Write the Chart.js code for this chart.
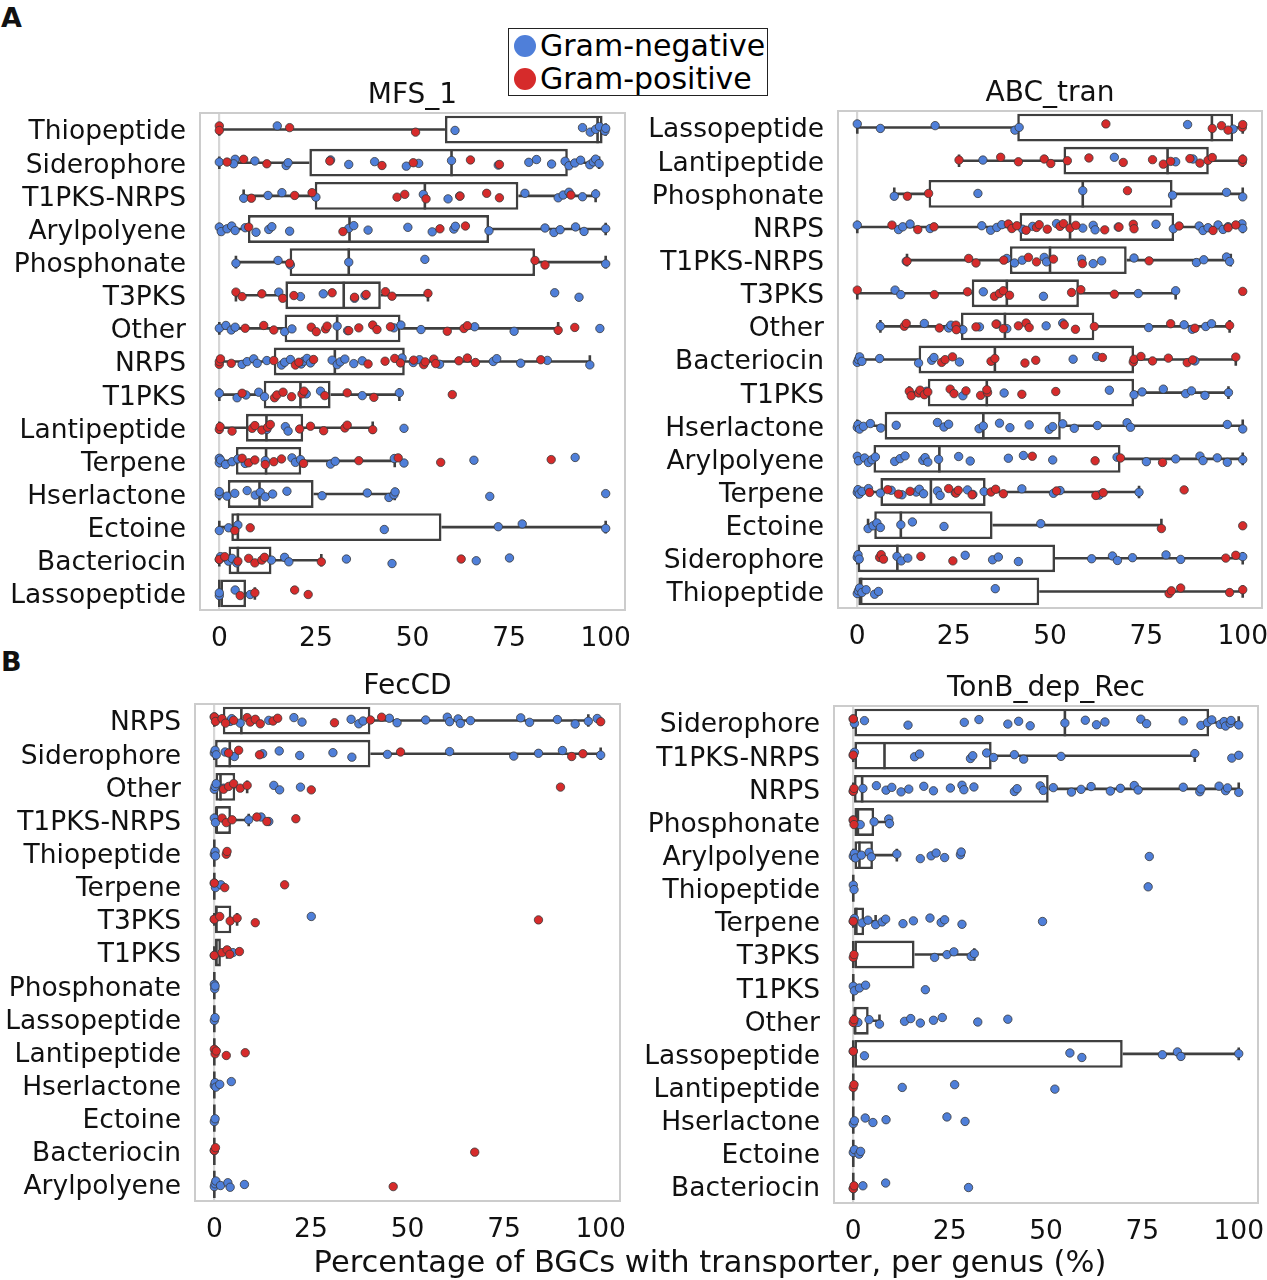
<!DOCTYPE html>
<html><head><meta charset="utf-8">
<script src="https://cdn.jsdelivr.net/npm/chart.js@4.4.1/dist/chart.umd.min.js"></script>
<style>
html,body{margin:0;padding:0;background:#fff;}
body{width:1267px;height:1280px;position:relative;overflow:hidden;font-family:'DejaVu Sans',sans-serif;}
canvas{position:absolute;}
.lab{position:absolute;font-family:'DejaVu Sans',sans-serif;color:#111;white-space:nowrap;}
#legend{position:absolute;left:508px;top:28px;width:258px;height:66px;border:1px solid #222;background:#fff;}
#legend .row{height:32px;line-height:32px;font-size:30px;display:flex;align-items:center;margin-top:1px;}
#legend .dot{width:22px;height:22px;border-radius:50%;margin-left:5px;margin-right:4px;flex:none;}
</style></head><body>
<div class="lab" style="left:1px;top:2px;font-size:27px;font-weight:bold;">A</div>
<div class="lab" style="left:1px;top:646px;font-size:27px;font-weight:bold;">B</div>
<canvas id="c1" width="640" height="610" style="left:0;top:60px"></canvas>
<canvas id="c2" width="627" height="610" style="left:640px;top:60px"></canvas>
<canvas id="c3" width="640" height="610" style="left:0;top:650px"></canvas>
<canvas id="c4" width="627" height="610" style="left:640px;top:650px"></canvas>
<div id="legend">
  <div class="row"><span class="dot" style="background:#4f7fd9"></span><span>Gram-negative</span></div>
  <div class="row"><span class="dot" style="background:#d62b2b"></span><span>Gram-positive</span></div>
</div>
<div class="lab" style="left:210px;width:1000px;text-align:center;top:1244px;font-size:30.5px;line-height:36px;">Percentage of BGCs with transporter, per genus (%)</div>
<script>
// ---------------- DATA ----------------
const X_TICKS = [0, 25, 50, 75, 100];

// Panel A, MFS_1
const mfsCategories = ['Thiopeptide','Siderophore','T1PKS-NRPS','Arylpolyene','Phosphonate','T3PKS','Other','NRPS','T1PKS','Lantipeptide','Terpene','Hserlactone','Ectoine','Bacteriocin','Lassopeptide'];
const mfsNeg = [
  [15, 61, 94, 96, 97.4, 98.4, 99.8, 100],
  [0, 4.1, 3.7, 9.2, 17.3, 17.8, 28.8, 33.5, 40.2, 48.4, 51.6, 60.1, 72.2, 80.1, 82.1, 86, 89.5, 90.5, 92, 93.5, 95.9, 96.8, 97.4, 98.3],
  [6.3, 12.6, 16.2, 25, 52.8, 59.2, 62.2, 79.1, 87.7, 89, 90.5, 94, 97.4],
  [0, 0.5, 2, 3.2, 4.1, 6.7, 9.5, 12.8, 13.6, 18.2, 33.5, 34.8, 38.5, 48.8, 55.1, 60.7, 61.1, 69.8, 84.3, 86.6, 88.2, 92.2, 94.4, 100],
  [4.3, 15.2, 18.4, 33.5, 53.2, 100],
  [15.4, 21, 26.9, 35, 37.7, 86.8, 93.1],
  [0, 1.7, 3.1, 4.1, 16.9, 18.8, 30.5, 33.2, 45.2, 47, 52.2, 66.1, 76.3, 98.5],
  [5.9, 7.2, 8.9, 9.8, 12.3, 16.1, 16.9, 18.4, 21.2, 21.8, 22.7, 23.6, 29.2, 30.5, 31.3, 32.5, 34.8, 37, 47.3, 50.2, 51.8, 57, 70.9, 71.8, 78, 84.9, 95.9],
  [0, 4.6, 6.9, 10.2, 11.7, 22.5, 26.2, 37, 46.6],
  [12.3, 17.1, 17.8, 47.8],
  [0, 0, 0.3, 1.6, 3.3, 4.8, 6.7, 11.9, 18.8, 19.7, 21, 28.8, 30, 45.3, 47.8, 65.9, 92.1],
  [0, 0, 2, 4, 7.2, 9.3, 10.6, 11.9, 13.8, 17.5, 26.6, 38.3, 43.9, 45.2, 45.5, 70, 100],
  [0, 2.4, 4.8, 42.7, 72.2, 78.4, 100],
  [0, 0.3, 2.4, 3.3, 4.5, 13.5, 16.9, 18, 32.9, 44.7, 66.5, 75.1],
  [0, 0, 4.1, 8]
];
const mfsPos = [
  [0, 0, 18.2, 50.8],
  [2, 6.3, 12.3, 28.6, 42.1, 50.2, 65, 72.5],
  [8.3, 19.5, 24, 46, 48, 53.5, 62.3, 69.2, 72.5, 91],
  [7.6, 32, 57.1, 63.7],
  [18.2, 81.7, 84.3],
  [4.3, 5.9, 11, 16.4, 19.3, 29.2, 35, 38, 43, 44.7, 54],
  [6.7, 11.5, 14.1, 23.8, 25.1, 27.5, 27.9, 33.5, 36.1, 39.7, 40.8, 44.3, 59, 63.3, 64.2, 87.7, 92],
  [0, 0, 0.3, 3.1, 14.1, 19.7, 20.6, 24.4, 38.5, 42.9, 45.4, 46.9, 50.3, 52.9, 53.3, 55.5, 56, 62, 64.2, 66.3, 83.2],
  [5.9, 14.3, 14.9, 16.5, 18.7, 21.4, 21.9, 27.3, 33.1, 40, 60.3],
  [0, 0.2, 3.3, 8.5, 9.2, 11, 12.5, 13.2, 20.8, 23.6, 27, 32.5, 33.1, 39.7],
  [5.9, 7.6, 9.2, 11.9, 14.1, 16.1, 21.8, 36.1, 46.3, 57.3, 85.9],
  [],
  [4, 8],
  [0, 1.4, 4.8, 7.6, 9.2, 11, 11.7, 26.4, 62.6],
  [5.4, 9.2, 19.5, 23]
];
const mfsMin    = [0, 0, 6.3, 0, 4.3, 4.3, 0, 0, 0, 0, 0, 0, 0, 0, 0];
const mfsQ1     = [58.4, 23.3, 24.7, 7.4, 18.2, 17.1, 16.9, 14.1, 11.5, 6.9, 4.3, 2.2, 3.1, 2.4, 0];
const mfsMedian = [97.9, 60.1, 53.2, 33.7, 33.5, 32.2, 30.5, 29.9, 21, 12.2, 12.1, 10.4, 4.8, 4.8, 0];
const mfsQ3     = [99.2, 90.2, 77.4, 69.8, 81.7, 41.8, 46.9, 48, 28.8, 21.7, 21.2, 24.4, 57.5, 13.5, 6.9];
const mfsMax    = [100, 98.3, 97.4, 100, 100, 54, 87.7, 95.9, 46.6, 39.7, 45.4, 45.4, 100, 26.4, 9.2];

// Panel A, ABC_tran
const abcCategories = ['Lassopeptide','Lantipeptide','Phosphonate','NRPS','T1PKS-NRPS','T3PKS','Other','Bacteriocin','T1PKS','Hserlactone','Arylpolyene','Terpene','Ectoine','Siderophore','Thiopeptide'];
const abcNeg = [
  [0, 6, 20.2, 40.9, 42, 85.7, 97.5],
  [32.6, 66.7, 82.6, 87.1],
  [9.6, 31.3, 58.5, 81.8, 95.8, 100],
  [0, 10.7, 11.8, 13.7, 18.9, 32.3, 34.6, 36.2, 37.5, 42.9, 45.5, 51.7, 58.5, 61.2, 61.7, 67.7, 77.5, 82, 88.7, 89.7, 91, 93.6, 94.9, 96.2, 99.8, 100],
  [12.7, 38.8, 40.8, 42.8, 48.5, 49.1, 58.2, 61.2, 63.4, 71.8, 88, 89.9, 95.8, 96.6],
  [9.8, 11.3, 32.7, 48.3, 72.9, 82.6],
  [6, 17.4, 23.7, 24.3, 27.4, 31.7, 36.2, 38.8, 49, 53.3, 75.6, 84.8, 86.9, 90.4, 91.9],
  [0, 0.3, 0.6, 1.2, 5.8, 15.9, 19.3, 19.9, 26.5, 56, 62.1, 87.6],
  [18, 27.4, 38.1, 65.4, 71.8, 73.9, 79.4, 85.2, 86.7, 90.2, 96.3],
  [0, 0.2, 0.6, 1.6, 3.4, 6.1, 10.1, 20.8, 22.5, 23.7, 31.6, 32.7, 36.9, 39.6, 44.6, 49.8, 50.7, 53.3, 56.3, 62.3, 70, 70.9, 96, 100],
  [0, 0.3, 1.9, 2.9, 3.8, 4.7, 9.7, 11.1, 12.4, 17, 17.6, 18.3, 21.1, 26.3, 29.3, 39.2, 43.1, 50.7, 67.4, 75, 82.6, 88.9, 89.7, 93.4, 96, 100],
  [0, 0.2, 0.5, 1.2, 2.9, 6, 8.8, 11.6, 15.3, 16.1, 17.2, 20.8, 21.5, 25.4, 28.6, 30, 32.9, 42.7, 50.9, 52.6, 62.8, 73.1],
  [2.8, 4.1, 5.1, 6, 11.3, 14.3, 22.5, 47.6],
  [0, 0.2, 0.5, 10.3, 11.4, 13.1, 28, 35.1, 36.6, 41.8, 60.8, 66.2, 67.5, 71.4, 80.1, 83.9, 100],
  [0, 0.3, 0.6, 1.2, 2.3, 4.5, 5.5, 35.8]
];
const abcPos = [
  [64.5, 92.1, 94.5, 96.2, 99.9, 100],
  [26.4, 37.2, 41.8, 48.5, 50.2, 54.5, 60.1, 69, 76.6, 79.4, 81.3, 86.3, 88.9, 91, 92.1, 99.9, 100],
  [13, 18.5, 70.1],
  [9, 15.7, 19.9, 39.2, 40.1, 41.4, 43.8, 46.5, 47.2, 49.3, 52.6, 53.5, 55.2, 56.7, 64.2, 67.9, 71.6, 71.8, 83.5, 92.3, 96.2, 98.2],
  [12.9, 28.9, 30.8, 38, 44.4, 46.5, 50.9, 58.4, 75.7],
  [0, 20, 28.6, 35.6, 36.9, 37.9, 39.5, 55.6, 58, 66.7, 100],
  [12.2, 12.7, 21.3, 25.6, 25.7, 30.8, 36, 37.9, 41.8, 43.8, 44.6, 53.7, 56.6, 61.5, 81.3, 87.6, 96.6],
  [21.9, 22.8, 24.7, 34.7, 35.7, 43.5, 46.3, 63.6, 71.6, 71.8, 73.6, 76.6, 80.7, 85.6, 87, 98.2],
  [13.5, 14, 15.9, 16.3, 17.4, 18.3, 24.1, 25.1, 28.2, 32, 33.8, 33.6, 42.7, 51.5],
  [],
  [45.4, 61.7, 68.3, 79.2],
  [3.2, 7.9, 10.7, 13.7, 23.7, 25.6, 26.2, 29.8, 34.7, 35.9, 37.9, 51.7, 61.9, 63.8, 84.8],
  [78.9, 100],
  [5.8, 6.2, 6.8, 16.5, 24.8, 95.6, 98.2],
  [80.9, 81.5, 83.9, 96.6, 100]
];
const abcMin    = [0, 26.4, 9.6, 0, 12.9, 0, 6, 0, 13.5, 0, 0, 0, 2.8, 0, 0];
const abcQ1     = [41.5, 53.5, 18.5, 42.1, 39.6, 29.7, 26.9, 15.9, 18.3, 7.1, 4.2, 6, 4.4, 0.1, 0];
const abcMedian = [92, 80.5, 58.5, 55.2, 50, 38.8, 38.3, 35.7, 33.6, 32.7, 21.3, 19.1, 11.3, 10.4, 1];
const abcQ3     = [97.5, 91.2, 81.8, 82.2, 69.9, 57.5, 61.5, 71.8, 71.8, 52.8, 68.3, 33.3, 35.1, 51.3, 47.2];
const abcMax    = [100, 100, 100, 100, 96.9, 82.6, 96.6, 98.2, 96.3, 100, 100, 73.1, 78.9, 100, 100];

// Panel B, FecCD
const fecCategories = ['NRPS','Siderophore','Other','T1PKS-NRPS','Thiopeptide','Terpene','T3PKS','T1PKS','Phosphonate','Lassopeptide','Lantipeptide','Hserlactone','Ectoine','Bacteriocin','Arylpolyene'];
const fecNeg = [
  [0, 4.1, 4.5, 6.7, 14.1, 20.6, 22.7, 35.4, 37.4, 38.5, 45.3, 47.3, 54.7, 60.3, 60.9, 63.1, 63.7, 66.3, 79.3, 81.6, 88.8, 93.4, 96.8, 99.1],
  [0, 0.2, 0.5, 2.8, 5.2, 12.5, 16.8, 22.1, 30.7, 35.6, 44.8, 60.9, 77.5, 83.9, 90.1, 100],
  [0, 0.2, 0.5, 2.4, 15.4, 16.9, 22.3],
  [0, 0.3, 8.9, 12.1, 14.1],
  [0, 0.2, 0.3],
  [0, 0.3, 1.7],
  [0, 25.1],
  [0, 4.8],
  [0, 0.1, 0.2],
  [0, 0.2],
  [],
  [0, 0.2, 0.4, 1.4, 4.4],
  [0, 0.2],
  [0],
  [0, 0.2, 0.4, 1.6, 3.5, 4.1, 7.8]
];
const fecPos = [
  [0, 0.3, 2, 2.9, 5, 8.5, 9.3, 10.6, 11.9, 15.2, 16.4, 31.1, 40.4, 43.3, 100],
  [3.7, 6.3, 11.7, 48.2, 92.5, 95.4],
  [2.4, 3.7, 5, 6.7, 8.5, 25.1, 89.6],
  [2, 3.1, 4.6, 11, 13.6, 21.1],
  [3.1, 3.3],
  [0, 2.7, 18.2],
  [0, 1.4, 4.1, 5.9, 10.6, 83.9],
  [0, 2, 3.3, 4, 6.5],
  [],
  [],
  [0, 0.2, 0.5, 3.1, 8],
  [],
  [],
  [0, 0.3, 67.4],
  [46.3]
];
const fecMin    = [0, 0, 0, 0, 0, 0, 0, 0, 0, 0, 0, 0, 0, 0, 0];
const fecQ1     = [2.2, 0.2, 0.3, 0.3, 0, 0, 0.2, 0.2, 0, 0, 0, 0, 0, 0, 0];
const fecMedian = [7, 4, 1.6, 0.5, 0, 0, 0.5, 0.5, 0, 0, 0, 0, 0, 0, 0];
const fecQ3     = [40.4, 40.4, 5.4, 4.3, 0, 0, 4.4, 1.7, 0, 0, 0, 0, 0, 0, 0];
const fecMax    = [96.8, 100, 8.5, 8.9, 0, 0, 5.9, 3.3, 0, 0, 0, 0, 0, 0, 0];

// Panel B, TonB_dep_Rec
const tonbCategories = ['Siderophore','T1PKS-NRPS','NRPS','Phosphonate','Arylpolyene','Thiopeptide','Terpene','T3PKS','T1PKS','Other','Lassopeptide','Lantipeptide','Hserlactone','Ectoine','Bacteriocin'];
const tonbNeg = [
  [0, 0.3, 2.9, 14.2, 28.8, 32.6, 40.1, 42.9, 45.9, 54.9, 60.2, 63.1, 65.3, 74.6, 76.1, 85.6, 90.2, 91.9, 93, 95.2, 96.2, 96.6, 97.8, 98, 100],
  [0, 0.3, 15.9, 17.2, 30.4, 31, 34.6, 36.4, 41.8, 44.2, 53.9, 88.6, 98.2, 100],
  [0, 2.5, 6, 8.5, 10, 12.4, 14.4, 18.3, 20.8, 25.2, 28.2, 28.7, 31.3, 41.8, 42.5, 48.5, 49.3, 51.9, 56.6, 59.1, 61.7, 66.7, 69.3, 72.9, 73.9, 85.6, 89.9, 90.2, 94.9, 96.6, 97.1, 100],
  [0, 1.8, 5.4, 9.2, 9.4],
  [0, 0.3, 0.6, 2.1, 4.1, 4.7, 11.3, 17.4, 20.2, 21.5, 23.7, 27.8, 28, 76.8],
  [0, 0.2, 76.5],
  [0, 0.3, 2.3, 3.8, 5.8, 7.5, 8.4, 12.9, 15.6, 19.9, 22.8, 23.7, 28.2, 49.1],
  [21.1, 24.3, 26.1, 30.6, 31.4],
  [0, 0.3, 1.6, 3.2, 18.7],
  [1.2, 4.1, 6.8, 13.3, 14.9, 17.4, 20.8, 23.1, 32.3, 40.1],
  [0, 2.9, 56.2, 59.3, 80.2, 84.1, 85, 100],
  [12.7, 26.3, 52.3],
  [0, 0.3, 3.1, 5.1, 8.5, 24.3, 29],
  [0, 0.3, 1.5, 1.9],
  [0, 2.5, 8.4, 29.9]
];
const tonbPos = [
  [0], [0], [0, 0.2], [0, 0.2], [], [], [0], [0, 0.2], [], [0, 0.2], [0], [0, 0.2], [], [], [0, 0.2]
];
const tonbMin    = [0, 0, 0, 0, 0, 0, 0, 0, 0, 0, 0, 0, 0, 0, 0];
const tonbQ1     = [0, 0, 0.2, 0.3, 0.3, 0, 0.2, 0, 0, 0.2, 0, 0, 0, 0, 0];
const tonbMedian = [54.9, 8.1, 2.3, 1.2, 1.6, 0, 0.8, 0, 0, 0.4, 0, 0, 0, 0, 0];
const tonbQ3     = [92.3, 35.9, 50.7, 5.4, 5.1, 0, 2.8, 15.9, 0, 4, 69.9, 0, 0, 0, 0];
const tonbMax    = [100, 88.6, 100, 9.4, 11.3, 0, 5.8, 31.4, 0, 6.8, 100, 0, 0, 0, 0];

// ---------------- DRAWING ----------------
const FONT = "'DejaVu Sans', sans-serif";
const BLUE = '#4f7fd9', RED = '#d62b2b', LINE = '#3f3f3f';

function jitter(i, k) { return (((k * 0.6180339887 + i * 0.414) % 1) - 0.5) * 0.22; }
function toPoints(groups) {
  const out = [];
  groups.forEach((g, i) => g.forEach((v, k) => out.push({ x: v, y: i + jitter(i, k) })));
  return out;
}

const framePlugin = {
  id: 'frame',
  beforeDatasetsDraw(chart) {
    const a = chart.chartArea, ctx = chart.ctx;
    ctx.save(); ctx.strokeStyle = '#cccccc'; ctx.lineWidth = 2;
    ctx.strokeRect(a.left, a.top, a.right - a.left, a.bottom - a.top);
    ctx.restore();
  }
};

function boxExtras(mn, q1, md, q3, mx) {
  return {
    id: 'boxExtras',
    afterDatasetDraw(chart, args) {
      if (args.index !== 0) return;
      const xs = chart.scales.x, ys = chart.scales.y, ctx = chart.ctx;
      const band = Math.abs(ys.getPixelForValue(1) - ys.getPixelForValue(0));
      const half = band * 0.41, cap = band * 0.19;
      const p = v => xs.getPixelForValue(v);
      ctx.save();
      ctx.strokeStyle = LINE; ctx.lineWidth = 2.6;
      for (let i = 0; i < q1.length; i++) {
        const cy = ys.getPixelForValue(i);
        ctx.beginPath();
        ctx.moveTo(p(mn[i]), cy); ctx.lineTo(p(q1[i]), cy);
        ctx.moveTo(p(q3[i]), cy); ctx.lineTo(p(mx[i]), cy);
        ctx.moveTo(p(mn[i]), cy - cap); ctx.lineTo(p(mn[i]), cy + cap);
        ctx.moveTo(p(mx[i]), cy - cap); ctx.lineTo(p(mx[i]), cy + cap);
        ctx.moveTo(p(md[i]), cy - half); ctx.lineTo(p(md[i]), cy + half);
        if (q3[i] - q1[i] < 0.3) { ctx.moveTo(p(q1[i]), cy - half); ctx.lineTo(p(q1[i]), cy + half); }
        ctx.stroke();
      }
      ctx.restore();
    }
  };
}

function makePanel(id, title, cats, neg, pos, mn, q1, md, q3, mx, L) {
  return new Chart(document.getElementById(id), {
    type: 'bar',
    data: {
      labels: cats,
      datasets: [
        { type: 'bar', indexAxis: 'y', data: q1.map((v, i) => [v, q3[i]]),
          backgroundColor: '#ffffff', borderColor: LINE, borderWidth: 2.6, borderSkipped: false,
          barPercentage: 0.84, categoryPercentage: 1, xAxisID: 'x', yAxisID: 'y', order: 3 },
        { type: 'scatter', data: toPoints(neg), backgroundColor: BLUE, borderColor: '#383838',
          borderWidth: 0.8, pointRadius: 4.2, xAxisID: 'x', yAxisID: 'yj', order: 2 },
        { type: 'scatter', data: toPoints(pos), backgroundColor: RED, borderColor: '#383838',
          borderWidth: 0.8, pointRadius: 4.2, xAxisID: 'x', yAxisID: 'yj', order: 1 }
      ]
    },
    options: {
      responsive: false, animation: false, events: [],
      layout: { padding: { top: L.pt + 2, right: L.pr, left: 0, bottom: 0 } },
      plugins: {
        legend: { display: false }, tooltip: { enabled: false },
        title: { display: true, text: title, fullSize: false, color: '#111',
          font: { family: FONT, size: 28, weight: 'normal' }, padding: { top: 0, bottom: 0 } }
      },
      scales: {
        x: { type: 'linear', position: 'bottom', min: -5, max: 105, offset: false, beginAtZero: false,
          afterBuildTicks: s => { s.ticks = X_TICKS.map(v => ({ value: v })); },
          afterFit: s => { s.height = L.xh; s.paddingLeft = 0; s.paddingRight = 0; },
          ticks: { font: { family: FONT, size: 26.5 }, color: '#111', padding: L.xp, maxRotation: 0, autoSkip: false },
          grid: { offset: false, drawTicks: false, lineWidth: 2.2,
            color: c => (c.tick && c.tick.value === 0) ? '#d6d6d6' : 'rgba(0,0,0,0)' },
          border: { display: false } },
        y: { type: 'category', position: 'left', offset: true,
          afterFit: s => { s.width = L.yw; s.paddingTop = 0; s.paddingBottom = 0; },
          ticks: { font: { family: FONT, size: 26.5 }, color: '#111', padding: 14, autoSkip: false, labelOffset: 3 },
          grid: { display: false, drawTicks: false }, border: { display: false } },
        yj: { type: 'linear', axis: 'y', display: false, min: -0.5, max: cats.length - 0.5, reverse: true, offset: false }
      }
    },
    plugins: [framePlugin, boxExtras(mn, q1, md, q3, mx)]
  });
}

makePanel('c1', 'MFS_1', mfsCategories, mfsNeg, mfsPos, mfsMin, mfsQ1, mfsMedian, mfsQ3, mfsMax,
  { pt: 17.4, pr: 15, yw: 200, xh: 60, xp: 13 });
makePanel('c2', 'ABC_tran', abcCategories, abcNeg, abcPos, abcMin, abcQ1, abcMedian, abcQ3, abcMax,
  { pt: 15.4, pr: 5, yw: 198, xh: 62, xp: 13 });
makePanel('c3', 'FecCD', fecCategories, fecNeg, fecPos, fecMin, fecQ1, fecMedian, fecQ3, fecMax,
  { pt: 18.4, pr: 20, yw: 195, xh: 59, xp: 13 });
makePanel('c4', 'TonB_dep_Rec', tonbCategories, tonbNeg, tonbPos, tonbMin, tonbQ1, tonbMedian, tonbQ3, tonbMax,
  { pt: 20.4, pr: 9, yw: 194, xh: 57, xp: 13 });
</script>
</body></html>
